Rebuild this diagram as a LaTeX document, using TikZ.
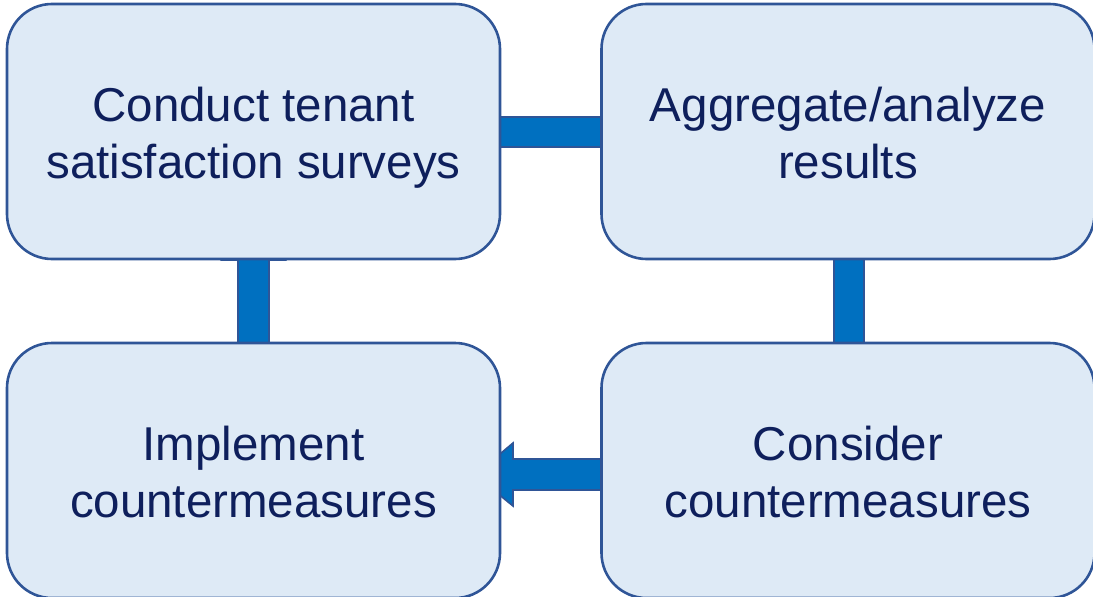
\documentclass[tikz,border=0pt]{standalone}
\usepackage{fontspec}
\setmainfont{Liberation Sans}
\definecolor{boxfill}{HTML}{DEEAF6}
\definecolor{boxline}{HTML}{2F5597}
\definecolor{arrfill}{HTML}{0070C0}
\definecolor{txt}{RGB}{14,31,92}
\tikzset{
  box/.style={draw=boxline, fill=boxfill, line width=2.6pt, rounded corners=45pt,
    minimum width=493pt, minimum height=255pt, inner sep=0pt},
  lbl/.style={inner sep=0pt, align=center, text=txt,
    font=\fontsize{47.5}{57}\selectfont},
  conn/.style={draw=boxline, fill=arrfill, line width=1.6pt, line join=miter}
}
\begin{document}
\begin{tikzpicture}[x=1pt,y=-1pt]
\useasboundingbox (0,0) rectangle (1093,597);
% connectors (drawn beneath boxes)
\draw[conn] (490,117) -- (603,117) -- (603,100) -- (640,132) -- (603,163) -- (603,147) -- (490,147) -- cycle;
\draw[conn] (834,250) -- (864,250) -- (864,360) -- (880,360) -- (849,395) -- (818,360) -- (834,360) -- cycle;
\draw[conn] (610,459) -- (513,459) -- (513,443) -- (475,475) -- (513,506) -- (513,490) -- (610,490) -- cycle;
\draw[conn] (238,355) -- (238,260) -- (222,260) -- (253.5,225) -- (285,260) -- (269,260) -- (269,355) -- cycle;
% boxes
\node[box] (tl) at (253.5,131.5) {};
\node[box] (tr) at (848,131.5) {};
\node[box] (br) at (848,470.5) {};
\node[box] (bl) at (253.5,470.5) {};
% texts
\node[lbl] (tlt) at ([yshift=-7pt]tl.center) {\strut Conduct tenant\\\strut satisfaction surveys};
\node[lbl] (trt) at ([yshift=-7pt]tr.center) {\strut Aggregate/analyze\\\strut results};
\node[lbl] (brt) at ([yshift=-7pt]br.center) {\strut Consider\\\strut countermeasures};
\node[lbl] (blt) at ([yshift=-7pt]bl.center) {\strut Implement\\\strut countermeasures};
\end{tikzpicture}
\end{document}
